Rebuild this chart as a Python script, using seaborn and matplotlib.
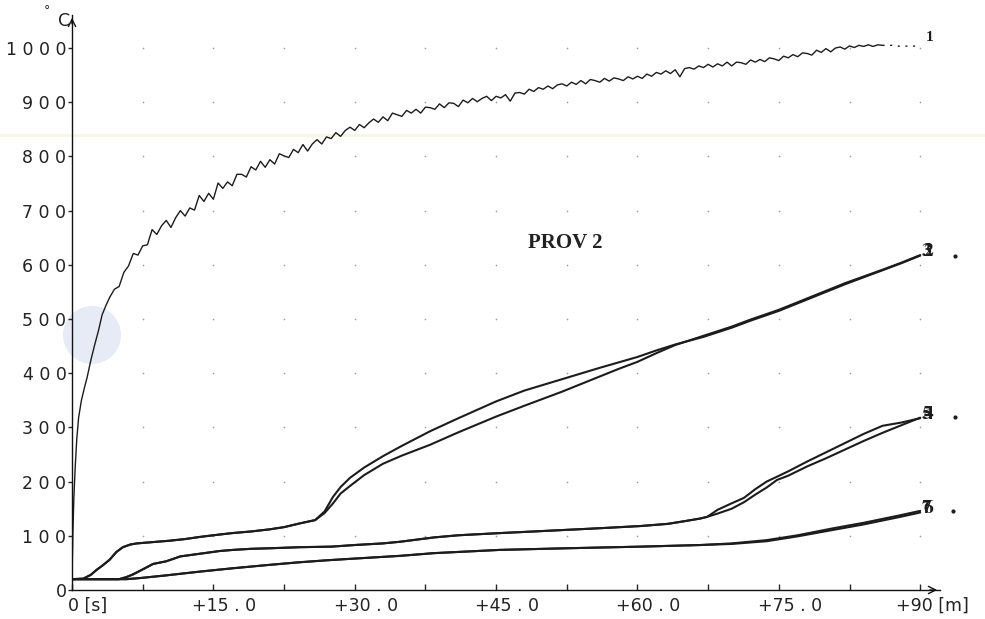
import numpy as np
import pandas as pd
import matplotlib
matplotlib.use("Agg")
import matplotlib.pyplot as plt
from matplotlib.lines import Line2D
from matplotlib.patches import Ellipse
from matplotlib.transforms import ScaledTranslation
import seaborn as sns

# ---------------- data (minutes, deg C) ----------------
t1_early = [0, 0.1, 0.2, 0.35, 0.5, 0.7, 1.0, 1.3, 1.6, 2.0, 2.4, 2.8, 3.2, 3.6]
T1_early = [20, 110, 171, 230, 277, 318, 350, 372, 392, 424, 452, 478, 508, 525]
T1_main = [540, 555, 560, 586, 598, 621, 618, 635, 637, 665,
           656, 672, 682, 669, 687, 700, 690, 705, 701, 728,
           717, 732, 721, 751, 741, 753, 746, 767, 767, 762,
           781, 775, 791, 780, 794, 786, 805, 801, 798, 813,
           807, 822, 810, 823, 831, 823, 836, 833, 844, 837,
           848, 854, 848, 859, 853, 862, 869, 863, 873, 866,
           880, 877, 874, 885, 880, 887, 880, 891, 890, 887,
           897, 890, 899, 898, 892, 904, 899, 907, 901, 907,
           911, 903, 911, 908, 914, 902, 917, 918, 915, 924,
           920, 927, 924, 930, 925, 932, 934, 930, 937, 933,
           940, 934, 942, 940, 937, 944, 939, 945, 943, 940,
           947, 943, 948, 944, 952, 948, 955, 952, 958, 953,
           960, 947, 962, 964, 961, 967, 964, 970, 965, 971,
           967, 974, 967, 974, 973, 970, 978, 974, 979, 975,
           982, 980, 977, 985, 982, 988, 984, 991, 990, 987,
           996, 992, 999, 993, 1000, 1002, 998, 1004, 1001, 1005,
           1003, 1006, 1003, 1006, 1005]
t1_main = list(4.0 + 0.5 * np.arange(len(T1_main)))
t1_tail = [86.0, 87.0, 88.0, 89.0, 90.0]
T1_tail = [1005, 1005, 1003, 1004, 1003]

t23_early = [0, 1.2, 2, 2.6, 3.3, 4, 4.7, 5.4, 6.2, 6.9, 8.3, 10.4, 12, 13.6, 15, 17, 19, 21,
             22.5, 24.2, 25.8]
T23_early = [20, 21, 28, 37, 46, 56, 70, 79, 84, 86, 88, 91, 94, 98, 101, 105, 108, 112,
             116, 123, 129]
t23_late = [26.8, 27.7, 28.5, 29.5, 31, 33, 35, 38, 41, 45, 48, 52, 56, 58, 60, 62, 64, 67,
            70, 72, 75, 79, 82, 86, 88, 90]
T2_late = [145, 172, 190, 207, 226, 247, 266, 293, 317, 348, 368, 389, 410, 420, 430, 442,
           453, 467, 484, 497, 515, 543, 564, 590, 603, 617]
T3_late = [142, 160, 178, 192, 212, 233, 248, 268, 291, 320, 340, 366, 394, 408, 421, 437,
           452, 469, 486, 499, 517, 545, 566, 591, 604, 618]

t45_early = [0, 5.0, 5.8, 6.5, 7.5, 8.6, 10, 11.5, 13.6, 15.7, 17.1, 19, 21, 24.2, 27.5, 30,
             33, 34.8, 38.4, 41, 45.4, 49, 52.5, 56, 60.3, 63.2, 65, 66.7, 67.4]
T45_early = [20, 20, 24, 29, 38, 48, 53, 62, 67, 72, 74, 76, 77, 79, 80, 83, 86, 89, 97, 101,
             105, 108, 111, 114, 118, 122, 127, 132, 135]
t45_late = [68.5, 70, 71.3, 72.5, 73.7, 74.8, 76, 78, 80, 82, 84, 86, 88, 90]
T4_late = [148, 160, 170, 186, 200, 209, 219, 237, 254, 271, 288, 303, 309, 317]
T5_late = [141, 150, 162, 176, 189, 203, 211, 228, 243, 259, 275, 290, 304, 318]

t67 = [0, 5.8, 7.2, 10, 13.6, 17, 20.7, 24, 27.2, 30, 34.8, 38.4, 45.4, 52.5, 60.3, 66.7,
       70, 73.7, 77, 80.8, 84, 87.9, 90]
T6 = [20, 20, 22, 27, 34, 40, 46, 51, 55, 58, 63, 68, 74, 77, 80, 83, 86, 92, 101, 114, 124,
      138, 146]
T7 = [20, 20, 22, 27, 34, 40, 46, 51, 55, 58, 63, 68, 74, 77, 80, 83, 85, 90, 99, 111, 121,
      135, 143]

y_ticks = [0, 100, 200, 300, 400, 500, 600, 700, 800, 900, 1000]
y_labels = ["0", "1 0 0", "2 0 0", "3 0 0", "4 0 0", "5 0 0", "6 0 0", "7 0 0", "8 0 0",
            "9 0 0", "1 0 0 0"]
x_ticks = [0, 15, 30, 45, 60, 75, 90]
x_labels = ["", "+15 . 0", "+30 . 0", "+45 . 0", "+60 . 0", "+75 . 0", ""]
curve_tags = [("2", "3", 627), ("4", "5", 325), ("6", "7", 153)]
title_text = "PROV 2"

# ---------------- figure ----------------
sns.set_style("white")
plt.rcParams['font.family'] = ['DejaVu Sans']
plt.rcParams['mathtext.fontset'] = 'stix'

W, H = 985, 619
fig = plt.figure(figsize=(W / 100, H / 100), dpi=100)
fig.patch.set_facecolor("white")
ax = fig.add_axes([72 / W, (H - 590) / H, (940 - 72) / W, (590 - 15) / H])
ax.patch.set_visible(False)
ax.set_xlim(0, 92.1)
ax.set_ylim(0, 1061)

# faint scan artefacts
fig.add_artist(Line2D([0, 1], [1 - 135 / H, 1 - 135 / H], transform=fig.transFigure,
                      color="#f8f6e2", lw=2.0, zorder=0))
fig.add_artist(Ellipse((92 / W, 1 - 335 / H), 58 / W, 58 / H, transform=fig.transFigure,
                       facecolor="#e6ebf5", edgecolor="none", zorder=0))

# grid dots
gx, gy = np.meshgrid(np.arange(7.5, 90.1, 7.5), np.arange(100, 1001, 100))
ax.scatter(gx.ravel(), gy.ravel(), s=1.5, color="#a0a0a0", linewidths=0, zorder=1)

line_col = "#1c1c1c"
def draw(x, y, lw=1.5, **kw):
    sns.lineplot(x=x, y=y, ax=ax, color=line_col, lw=lw, estimator=None, sort=False,
                 legend=False, **kw)

draw(t1_early + t1_main, T1_early + T1_main, lw=1.0)
draw(t1_tail, T1_tail, lw=1.0, linestyle=(0, (1.5, 4)))
draw(t23_early + t23_late, T23_early + T2_late)
draw(t23_early + t23_late, T23_early + T3_late)
draw(t45_early + t45_late, T45_early + T4_late)
draw(t45_early + t45_late, T45_early + T5_late)
draw(t67, T6)
draw(t67, T7)

# curve labels at right (digits printed on top of each other, as in the original)
lab_font = dict(color=line_col, ha="center", va="center", clip_on=False)
ax.text(91.0, 1019, "1", fontsize=11, family="Liberation Serif", fontweight="bold",
        **lab_font)
for a, b, yv in curve_tags:
    ax.text(90.85, yv, r"$\mathbf{" + a + r"\!\!\!\!\!" + b + "}$", fontsize=14, **lab_font)
ax.scatter([93.7, 93.7, 93.5], [616, 319, 146], s=4, color=line_col, clip_on=False)

ax.text(52.3, 640, title_text, family="Liberation Serif", fontweight="bold", fontsize=15,
        ha="center", va="center", color="#222222")

# axes styling
sns.despine(ax=ax)
for s in ("left", "bottom"):
    ax.spines[s].set_color("#111111")
    ax.spines[s].set_linewidth(1.0)
ax.set_yticks(y_ticks)
ax.set_yticklabels(y_labels, fontsize=12.5, color="#222222")
ax.set_xticks(x_ticks)
ax.set_xticklabels(x_labels, fontsize=12.5, color="#222222")
ax.set_xticks(np.arange(7.5, 90, 15), minor=True)
ax.tick_params(axis="y", direction="out", length=3, width=1, pad=1, left=True)
ax.tick_params(axis="x", which="both", direction="in", length=4, width=1, pad=5, bottom=True)
off = ScaledTranslation(11 / 100, 0, fig.dpi_scale_trans)
for lbl in ax.get_xticklabels():
    lbl.set_transform(lbl.get_transform() + off)

# custom end labels on x axis
ax.text(-0.4, -0.012, "0 [s]", transform=ax.get_xaxis_transform(), ha="left", va="top",
        fontsize=12.5, color="#222222")
ax.text(87.4, -0.012, "+90 [m]", transform=ax.get_xaxis_transform(), ha="left", va="top",
        fontsize=12.5, color="#222222", clip_on=False)

# axis arrows
ax.annotate("", xy=(1.0, 0), xytext=(0.985, 0), xycoords="axes fraction",
            arrowprops=dict(arrowstyle="->", lw=1.0, color="#111111", mutation_scale=13))
ax.annotate("", xy=(0, 1.0), xytext=(0, 0.98), xycoords="axes fraction",
            arrowprops=dict(arrowstyle="->", lw=1.0, color="#111111", mutation_scale=13))

# unit label
fig.text(47 / W, 1 - 11 / H, "°", fontsize=9, ha="center", va="center", color="#222222")
fig.text(64 / W, 1 - 21 / H, "C", fontsize=12.5, ha="center", va="center", color="#222222")

fig.savefig("out.png", dpi=100, facecolor="white")
